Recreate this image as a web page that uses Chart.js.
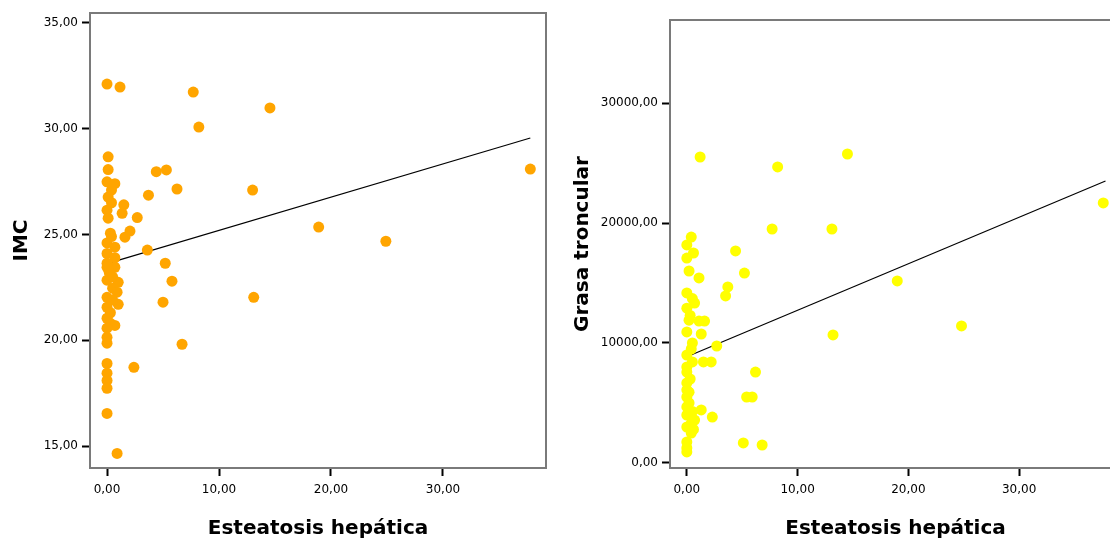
<!DOCTYPE html>
<html>
<head>
<meta charset="utf-8">
<script src="https://cdn.jsdelivr.net/npm/chart.js@4.4.1/dist/chart.umd.min.js"></script>
<style>
  html, body { margin: 0; padding: 0; background: #fff; overflow: hidden; width: 1110px; height: 542px; }
  .panel { position: absolute; top: 0; }
  #leftPanel { left: 0; width: 560px; height: 542px; }
  #rightPanel { left: 560px; width: 580px; height: 542px; }
</style>
</head>
<body>
<div class="panel" id="leftPanel"><canvas id="imcChart" width="560" height="542"></canvas></div>
<div class="panel" id="rightPanel"><canvas id="grasaChart" width="580" height="542"></canvas></div>
<script>
// Esteatosis hepática vs IMC
const imcX = [0, 1.16, 7.7, 14.55, 8.2, 0.1, 0.1, 4.4, 5.3, 0, 0.7, 0.4, 6.25, 13.0, 3.7,
  0.1, 0.4, 0, 0.1, 1.5, 1.35, 2.7, 2.05, 1.6, 0.3, 0, 0.7, 0, 0.7, 0, 0.7, 0,
  3.6, 5.2, 5.8, 0, 1.0, 0.5, 0.9, 0, 1.0, 0, 5.0, 13.1, 0, 0.3, 0.7, 0, 0, 0,
  6.7, 0, 2.4, 0, 0, 0, 0, 0.9, 18.9, 24.9, 37.8, 0.4, 0.2, 0.5, 0.3, 0.5];
const imcY = [32.11, 31.97, 31.73, 30.98, 30.08, 28.67, 28.07, 27.97, 28.05, 27.49, 27.4, 27.1, 27.15, 27.1, 26.86,
  26.77, 26.5, 26.15, 25.77, 26.4, 26.0, 25.8, 25.16, 24.87, 25.06, 24.6, 24.4, 24.1, 23.9, 23.64, 23.45, 23.45,
  24.26, 23.64, 22.79, 22.84, 22.74, 22.46, 22.27, 22.03, 21.7, 21.56, 21.8, 22.03, 21.04, 20.8, 20.7, 20.57, 20.14, 19.86,
  19.81, 18.9, 18.72, 18.44, 18.1, 17.73, 16.54, 14.65, 25.35, 24.68, 28.09, 24.9, 23.2, 23.0, 21.3, 21.9];

// Esteatosis hepática vs Grasa troncular
const grasaX = [1.2, 8.2, 14.5, 7.7, 13.1, 0.4, 0, 0.6, 0, 4.4, 0.2, 1.1, 5.2, 3.7, 3.5, 0, 0.7, 0.5,
  0, 0.3, 0.2, 1.1, 1.6, 0, 1.3, 0.5, 0.4, 2.7, 0, 0.5, 1.5, 2.2, 0, 0, 6.2, 0, 0, 0, 5.4, 5.9,
  0.2, 0, 1.3, 0, 2.3, 0.7, 0.4, 0, 0.4, 0, 0, 0, 5.1, 6.8, 37.6, 19.0, 24.8, 13.2, 0.3, 0.2, 0.6, 0.5];
const grasaY = [25500, 24670, 25750, 19500, 19500, 18830, 18170, 17500, 17080, 17670, 16000, 15420, 15830, 14670, 13920, 14170, 13330, 13700,
  12900, 12300, 11900, 11830, 11830, 10920, 10750, 10000, 9500, 9750, 9000, 8420, 8420, 8420, 8000, 7580, 7580, 6670, 6100, 5500, 5500, 5500,
  5000, 4670, 4420, 4000, 3830, 3580, 3300, 3000, 2500, 1750, 1250, 920, 1670, 1500, 21670, 15170, 11420, 10670, 7000, 5900, 2800, 4300];

// Fitted straight lines (end points)
const fitX = [0, 37.8];
const imcFit = [23.62, 29.56];
const grasaFit = [8850, 23500];

// Axis tick values
const xTickValues = [0, 10, 20, 30];
const imcTickValues = [15, 20, 25, 30, 35];
const grasaTickValues = [0, 10000, 20000, 30000];

const fmt = v => Number(v).toFixed(2).replace('.', ',');
const tickFont = { family: 'DejaVu Sans', size: 12 };
const titleFont = { family: 'DejaVu Sans', size: 20, weight: 'bold' };

const frame = {
  id: 'frame',
  beforeDatasetsDraw(chart) {
    const { ctx, chartArea: a } = chart;
    ctx.save();
    ctx.strokeStyle = '#7a7a7a';
    ctx.lineWidth = 2;
    ctx.strokeRect(Math.round(a.left), Math.round(a.top), Math.round(a.right - a.left), Math.round(a.bottom - a.top));
    ctx.restore();
  }
};

function pairs(xs, ys) { return xs.map((x, i) => ({ x, y: ys[i] })); }

function makeChart(id, cfg) {
  return new Chart(document.getElementById(id), {
    type: 'scatter',
    data: {
      datasets: [
        { data: pairs(cfg.xs, cfg.ys), backgroundColor: cfg.color, borderWidth: 0, pointRadius: 5.5, pointHoverRadius: 5.5 },
        { data: pairs(fitX, cfg.fit), showLine: true, borderColor: '#000', borderWidth: 1.2, pointRadius: 0, fill: false }
      ]
    },
    options: {
      responsive: false,
      animation: false,
      events: [],
      layout: { padding: cfg.padding },
      plugins: { legend: { display: false }, tooltip: { enabled: false } },
      scales: {
        x: {
          type: 'linear', min: -1.52, max: 39.2,
          afterBuildTicks: s => { s.ticks = xTickValues.map(v => ({ value: v })); },
          afterFit: s => { s.height = 74; },
          ticks: { callback: fmt, font: tickFont, color: '#000', padding: 7, maxRotation: 0, autoSkip: false },
          grid: { drawOnChartArea: false, drawTicks: true, tickLength: 8, tickWidth: 2, tickColor: '#000' },
          border: { display: false },
          title: { display: true, text: 'Esteatosis hepática', font: titleFont, color: '#000', padding: { top: 0, bottom: 1 } }
        },
        y: {
          type: 'linear', min: cfg.yMin, max: cfg.yMax,
          afterBuildTicks: s => { s.ticks = cfg.yTicks.map(v => ({ value: v })); },
          afterFit: s => { s.width = cfg.yWidth; },
          ticks: { callback: fmt, font: tickFont, color: '#000', padding: 4, autoSkip: false },
          grid: { drawOnChartArea: false, drawTicks: true, tickLength: 8, tickWidth: 2, tickColor: '#000' },
          border: { display: false },
          title: { display: true, text: cfg.yTitle, font: titleFont, color: '#000', padding: { top: cfg.yTitlePad, bottom: 0 } }
        }
      }
    },
    plugins: [frame]
  });
}

makeChart('imcChart', {
  xs: imcX, ys: imcY, fit: imcFit, color: '#ffa500',
  yMin: 13.96, yMax: 35.47, yTicks: imcTickValues, yTitle: 'IMC',
  yWidth: 90, yTitlePad: 10,
  padding: { top: 13, right: 14, left: 0, bottom: 0 }
});

makeChart('grasaChart', {
  xs: grasaX, ys: grasaY, fit: grasaFit, color: '#ffff00',
  yMin: -417, yMax: 36917, yTicks: grasaTickValues, yTitle: 'Grasa troncular',
  yWidth: 110, yTitlePad: 11,
  padding: { top: 20, right: 19, left: 0, bottom: 0 }
});
</script>
</body>
</html>
